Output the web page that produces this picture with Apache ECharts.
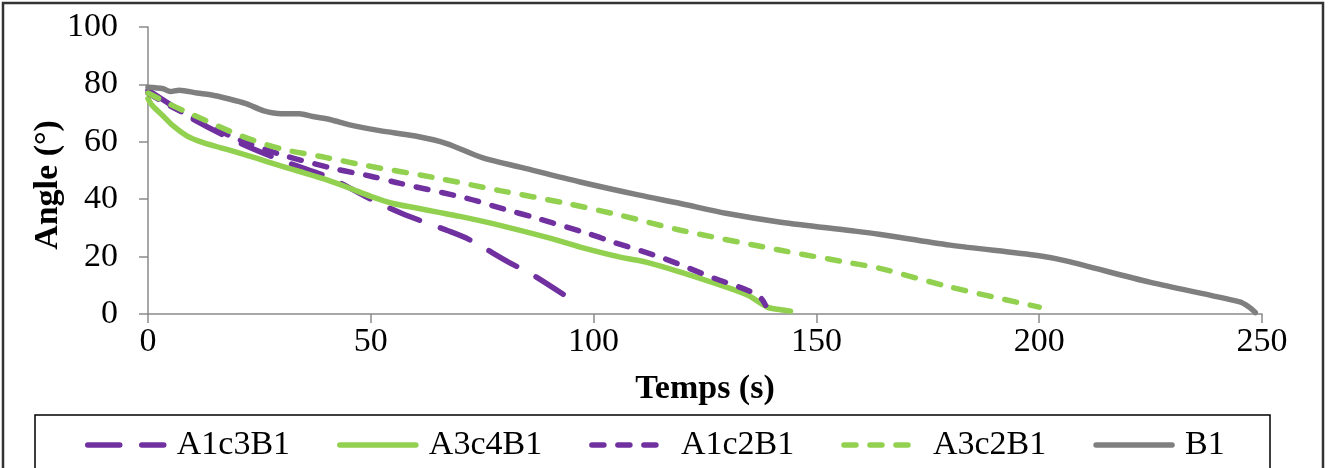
<!DOCTYPE html>
<html>
<head>
<meta charset="utf-8">
<script src="https://cdn.jsdelivr.net/npm/echarts@6/dist/echarts.min.js"></script>
<style>
	html, body { margin: 0; padding: 0; background: #fff; }
	#main { width: 1329px; height: 468px; }
</style>
</head>
<body>
<div id="main"></div>
<script>
// series names
var names = ['A1c3B1', 'A3c4B1', 'A1c2B1', 'A3c2B1', 'B1'];

// Temps (s) / Angle (°)
var tA1c3B1 = [0, 5, 10, 20, 30, 40, 43, 50, 57, 67, 72, 81, 86.5, 95];
var aA1c3B1 = [78, 73, 68, 60, 53.5, 48, 45.8, 40, 35, 29.2, 26, 18, 13.5, 5];

var tA3c4B1 = [0, 1, 3.4, 5.6, 8.8, 12.4, 16.2, 20, 24.5, 29.6, 34.8, 40, 45, 50, 55, 60, 65, 70, 79, 90, 97, 106, 112, 119.5, 127, 134.5, 139, 142, 144.2];
var aA3c4B1 = [75, 72.6, 69, 65.6, 62, 59.7, 58, 56.3, 54.2, 51.7, 49.3, 46.8, 44, 41, 38.5, 37, 35.5, 34, 30.9, 26.5, 23.3, 19.8, 18, 14.6, 10.8, 6.6, 2.4, 1.5, 1];

var tA1c2B1 = [0, 5, 10, 20, 30, 41.6, 50, 56.6, 71.6, 80, 86.5, 98.6, 104.5, 115.7, 127, 134.5, 137.5, 138.6];
var aA1c2B1 = [77, 72.5, 68.5, 61, 55.5, 50.7, 48, 45.5, 40.3, 36.5, 33.7, 28.1, 25, 19.4, 12.5, 8.3, 5.6, 3];

var tA3c2B1 = [0, 5, 9.5, 21, 30, 40, 49, 64, 79, 94, 106, 119.5, 142, 158, 164, 180, 200];
var aA3c2B1 = [77, 73, 69.8, 62, 57.5, 54.5, 51.7, 47.6, 43, 38.5, 34.4, 29.2, 22.2, 17.7, 16, 9.4, 2.4];

var tB1 = [0, 3.4, 5, 7, 11, 14, 18, 22, 26, 30, 34, 37, 41, 45, 52, 60, 67, 75, 84, 97, 110, 119.5, 130, 142, 158, 164, 180, 200, 206, 225, 245, 247, 248.5];
var aB1 = [79, 78.5, 77.5, 78, 77, 76.4, 75, 73.3, 70.8, 69.8, 69.8, 68.8, 67.7, 66, 63.9, 62, 59.4, 54.5, 51, 46, 41.5, 38.5, 35, 32, 29, 27.8, 24, 20.3, 18.5, 11, 4.2, 2.5, 0.5];

var xTicks = [0, 50, 100, 150, 200, 250];

function pairs(t, a) {
	var out = [];
	for (var i = 0; i < t.length; i++) {
		out.push([t[i], a[i]]);
	}
	return out;
}

var font = '"Liberation Serif", "Times New Roman", serif';
var purple = '#7030A0', green = '#92D050', grey = '#7F7F7F';

var myChart = echarts.init(document.getElementById('main'));

function mkLine(name, data, color, dash) {
	return {
		name: name,
		type: 'line',
		data: data,
		symbol: 'none',
		showSymbol: false,
		smooth: 0.3,
		lineStyle: { color: color, width: 5.5, type: dash, cap: 'round' },
		itemStyle: { color: color }
	};
}

var option = {
	animation: false,
	backgroundColor: '#fff',
	grid: { left: 148, right: 67, top: 27, bottom: 154 },
	legend: {
		left: 80,
		top: 423,
		itemWidth: 76,
		itemHeight: 14,
		itemGap: 47,
		itemStyle: { opacity: 0 },
		lineStyle: { width: 5.5 },
		textStyle: { fontFamily: font, fontSize: 34, color: '#000', padding: [0, 0, 0, 8] },
		data: names
	},
	xAxis: {
		type: 'value',
		min: 0, max: 250, interval: 50,
		axisLine: { lineStyle: { color: '#8a8a8a', width: 1.5 } },
		axisTick: { show: true, length: 9, lineStyle: { color: '#8a8a8a', width: 1.5 } },
		splitLine: { show: false },
		axisLabel: {
			fontFamily: font, fontSize: 34, color: '#000', margin: 11,
			customValues: xTicks
		},
		name: 'Temps (s)',
		nameLocation: 'middle',
		nameGap: 58,
		nameTextStyle: { fontFamily: font, fontSize: 34, fontWeight: 'bold', color: '#000' }
	},
	yAxis: {
		type: 'value',
		min: 0, max: 100, interval: 20,
		axisLine: { show: true, lineStyle: { color: '#8a8a8a', width: 1.5 } },
		axisTick: { show: true, length: 9, lineStyle: { color: '#8a8a8a', width: 1.5 } },
		splitLine: { show: false },
		axisLabel: { fontFamily: font, fontSize: 34, color: '#000', margin: 30 }
	},
	graphic: [
		{
			type: 'rect',
			shape: { x: 3, y: 3, width: 1320, height: 490 },
			style: { fill: null, stroke: '#333', lineWidth: 2.5 },
			silent: true, z: 0
		},
		{
			type: 'rect',
			shape: { x: 35, y: 415, width: 1235, height: 80 },
			style: { fill: null, stroke: '#000', lineWidth: 1.5 },
			silent: true, z: 0
		},
		{
			type: 'text',
			x: 48, y: 185,
			rotation: Math.PI / 2,
			style: {
				text: 'Angle (°)',
				font: 'bold 34px ' + font,
				fill: '#000',
				align: 'center',
				verticalAlign: 'middle'
			},
			silent: true
		}
	],
	series: [
		mkLine(names[0], pairs(tA1c3B1, aA1c3B1), purple, [32, 22]),
		mkLine(names[1], pairs(tA3c4B1, aA3c4B1), green, 'solid'),
		mkLine(names[2], pairs(tA1c2B1, aA1c2B1), purple, [12, 14]),
		mkLine(names[3], pairs(tA3c2B1, aA3c2B1), green, [12, 14]),
		mkLine(names[4], pairs(tB1, aB1), grey, 'solid')
	]
};
myChart.setOption(option);
</script>
</body>
</html>
